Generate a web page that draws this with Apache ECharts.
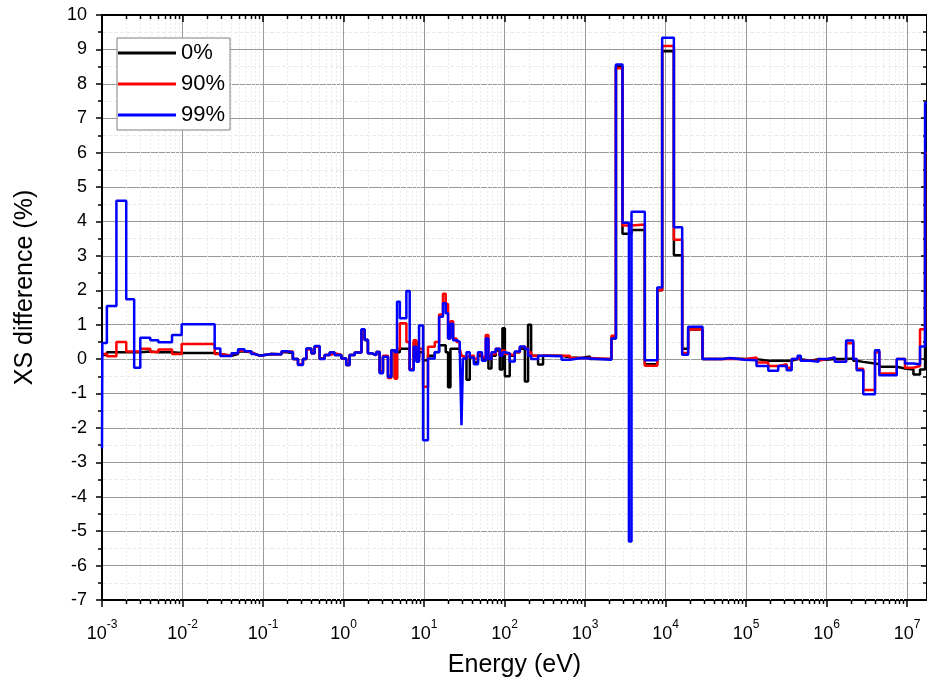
<!DOCTYPE html>
<html><head><meta charset="utf-8">
<script src="https://cdn.jsdelivr.net/npm/echarts@6/dist/echarts.min.js"></script>
<style>html,body{margin:0;padding:0;background:#fff}#c{width:927px;height:687px}</style>
</head><body><div id="c"></div><script>
// Group lower boundaries (eV); last entry closes the final group
const energies = [
  0.001, 0.00101, 0.00115, 0.00151, 0.00200, 0.00251, 0.00299, 0.00398, 0.00501, 0.00741,
  0.00977, 0.0251, 0.0295, 0.0407, 0.0490, 0.0589, 0.0716, 0.0794, 0.0912, 0.126,
  0.170, 0.195, 0.235, 0.272, 0.313, 0.345, 0.398, 0.438, 0.506, 0.583,
  0.673, 0.776, 0.940, 1.08, 1.19, 1.38, 1.67, 1.83, 2.01, 2.22,
  2.56, 2.81, 3.09, 3.57, 3.93, 4.33, 4.62, 5.01, 6.04, 6.64,
  7.45, 8.04, 8.67, 9.73, 11.2, 13.6, 15.4, 17.2, 18.6, 19.9,
  21.3, 23.0, 25.3, 27.8, 29.2, 30.5, 33.7, 37.0, 41.7, 46.8,
  52.5, 58.5, 63.1, 68.9, 77.8, 87.3, 94.2, 101, 116, 134,
  155, 179, 196, 214, 261, 301, 511, 647, 904, 1150,
  2130, 2420, 2920, 3510, 3780, 5530, 7890, 9080, 12700, 16100,
  19100, 28800, 50100, 63100, 96800, 135000, 189000, 251000, 320000, 369000,
  437000, 479000, 631000, 794000, 1.00e6, 1.27e6, 1.75e6, 2.15e6, 2.37e6, 2.86e6,
  4.00e6, 4.53e6, 7.45e6, 9.44e6, 1.20e7, 1.45e7, 1.675e7, 1.77e7
];
const diff0 = [
  0.12, 0.12, 0.2, 0.2, 0.2, 0.2, 0.22, 0.2, 0.2, 0.18,
  0.18, 0.15, 0.1, 0.15, 0.22, 0.2, 0.15, 0.1, 0.15, 0.14,
  0.2, 0.18, 0.0, -0.15, 0.0, 0.3, 0.17, 0.36, 0.02, 0.12,
  0.19, 0.12, 0.02, -0.17, 0.12, 0.19, 0.85, 0.55, 0.17, 0.12,
  0.21, -0.37, 0.07, -0.5, 0.26, -0.55, 0.2, 0.3, 0.3, -0.3,
  0.5, 0.05, 0.2, -0.03, 0.1, 0.2, 0.4, 0.4, 0.2, -0.82,
  0.3, 0.3, 0.3, 0.2, 0.1, 0.05, -0.6, 0.05, -0.1, 0.1,
  0.0, 0.1, -0.27, 0.1, 0.25, -0.3, 0.9, -0.5, 0.1, 0.2,
  0.3, -0.65, 1.0, 0.1, -0.16, 0.1, 0.05, 0.03, 0.08, 0.0,
  0.6, 8.5, 3.64, 3.64, 3.75, -0.15, 2.0, 8.95, 3.02, 0.3,
  0.86, 0.0, 0.02, 0.0, 0.0, -0.05, -0.05, -0.05, -0.05, 0.0,
  0.0, -0.05, 0.0, -0.02, 0.0, 0.0, 0.02, -0.05, -0.08, -0.13,
  -0.15, -0.22, -0.27, -0.3, -0.45, -0.3, 6.0, 6.0
];
const diff90 = [
  0.15, 0.15, 0.08, 0.5, 0.22, 0.22, 0.3, 0.21, 0.28, 0.15,
  0.44, 0.15, 0.1, 0.17, 0.24, 0.2, 0.15, 0.1, 0.15, 0.14,
  0.22, 0.22, 0.0, -0.15, 0.0, 0.28, 0.17, 0.36, 0.02, 0.12,
  0.17, 0.12, 0.02, -0.17, 0.12, 0.19, 0.8, 0.56, 0.17, 0.12,
  0.21, -0.37, 0.1, -0.55, 0.26, -0.57, 0.3, 1.04, 0.5, -0.3,
  0.55, 0.0, 0.3, -0.8, 0.36, 0.5, 1.3, 1.9, 1.6, 0.6,
  1.1, 0.6, 0.5, 0.3, 0.1, 0.05, 0.1, 0.1, 0.0, 0.15,
  0.05, 0.7, 0.0, 0.15, 0.3, 0.1, 0.25, 0.15, 0.1, 0.2,
  0.35, 0.3, 0.2, 0.1, 0.1, 0.1, 0.1, 0.03, 0.03, 0.0,
  0.68, 8.45, 3.88, 3.88, 3.91, -0.19, 2.0, 9.1, 3.47, 0.18,
  0.86, 0.0, 0.0, 0.0, 0.05, -0.1, -0.2, -0.15, -0.25, 0.0,
  0.05, -0.05, -0.05, 0.0, 0.05, -0.08, 0.46, 0.0, -0.28, -0.9,
  0.2, -0.42, 0.0, -0.25, -0.2, 0.87, 6.0, 6.0
];
const diff99 = [
  -2.6, 0.47, 1.54, 4.6, 1.74, -0.25, 0.62, 0.55, 0.49, 0.70,
  1.01, 0.31, 0.09, 0.17, 0.29, 0.23, 0.15, 0.1, 0.15, 0.14,
  0.23, 0.2, 0.0, -0.17, 0.0, 0.31, 0.17, 0.38, 0.0, 0.12,
  0.19, 0.12, 0.02, -0.17, 0.12, 0.19, 0.87, 0.56, 0.17, 0.12,
  0.21, -0.41, 0.07, -0.52, 0.26, 0.2, 1.67, 1.19, 1.98, -0.32,
  0.36, -0.08, 0.98, -2.36, 0.02, 0.21, 1.23, 1.62, 1.33, 0.6,
  1.03, 0.55, 0.5, 0.3, -1.92, 0.02, 0.2, 0.05, -0.15, 0.2,
  -0.05, 0.6, 0.0, 0.2, 0.3, 0.1, 0.2, 0.17, -0.07, 0.22,
  0.37, 0.3, 0.1, 0.0, 0.1, 0.08, -0.02, 0.03, 0.02, -0.02,
  0.6, 8.56, 3.96, -5.3, 4.28, -0.03, 2.08, 9.34, 3.83, 0.13,
  0.94, 0.0, 0.03, -0.02, -0.03, -0.2, -0.34, -0.2, -0.32, 0.0,
  0.1, -0.05, -0.08, 0.0, 0.05, -0.08, 0.54, 0.0, -0.32, -1.02,
  0.26, -0.47, 0.0, -0.13, -0.15, 0.37, 7.45, 7.45
];
const seriesNames = ['0%', '90%', '99%'];
const seriesColors = ['#000000', '#ff0000', '#0000ff'];
const xMin = 1e-3, xMax = 1.77e7;
const yMin = -7, yMax = 10, yStep = 1;
const minorMantissas = [2, 3, 4, 5, 6, 7, 8, 9];

const FONT = 'Liberation Sans, Arial, sans-serif';
const minorX = [];
for (let d = -3; d <= 7; d++) {
  minorMantissas.forEach(m => { const v = m * Math.pow(10, d); if (v < xMax) minorX.push([v, 0]); });
}
const pair = arr => energies.map((e, i) => [e, arr[i]]);

function renderMinor(params, api) {
  const cs = params.coordSys;
  const x = Math.round(api.coord([api.value(0), 0])[0]) + 0.5;
  const top = cs.y, bot = cs.y + cs.height;
  return { type: 'group', children: [
    { type: 'line', shape: { x1: x, y1: top, x2: x, y2: bot }, style: { stroke: '#ebebeb', lineWidth: 1, lineDash: [2, 2] } },
    { type: 'line', shape: { x1: x, y1: bot, x2: x, y2: bot + 4 }, style: { stroke: '#000', lineWidth: 1.5 } },
    { type: 'line', shape: { x1: x, y1: top, x2: x, y2: top + 4 }, style: { stroke: '#000', lineWidth: 1.5 } }
  ]};
}

const labelFmt = v => {
  const e = Math.log10(v), r = Math.round(e);
  if (Math.abs(e - r) > 1e-6) return '';
  return '{b|10}{s|' + r + '}';
};

const chart = echarts.init(document.getElementById('c'), null, { renderer: 'canvas' });
const lineSeries = [diff0, diff90, diff99].map((arr, i) => ({
  name: seriesNames[i], type: 'line', step: 'end', data: pair(arr),
  showSymbol: false, symbol: 'none', z: 3 + i,
  lineStyle: { color: seriesColors[i], width: 2.5 }, itemStyle: { color: seriesColors[i] },
  animation: false
}));

chart.setOption({
  animation: false,
  backgroundColor: '#ffffff',
  grid: { left: 102, right: 0, top: 15, bottom: 87, containLabel: false },
  legend: {
    orient: 'vertical', left: 117, top: 38, padding: [3, 5, 3, 1], itemGap: 7,
    itemWidth: 58, itemHeight: 3, icon: 'rect',
    backgroundColor: '#ffffff', borderColor: '#808080', borderWidth: 1, borderRadius: 0,
    textStyle: { fontSize: 22, fontFamily: FONT, color: '#000', lineHeight: 24 },
    data: seriesNames
  },
  xAxis: [{
    type: 'log', logBase: 10, min: xMin, max: xMax, splitNumber: 10, interval: 1,
    name: 'Energy (eV)', nameLocation: 'middle', nameGap: 53,
    nameTextStyle: { fontSize: 25, fontFamily: FONT, color: '#000' },
    axisLine: { show: true, onZero: false, lineStyle: { color: '#000', width: 2 } },
    axisTick: { show: true, inside: false, length: 7, lineStyle: { color: '#000', width: 1.5 } },
    axisLabel: {
      formatter: labelFmt, margin: 19, showMaxLabel: false,
      rich: {
        b: { fontSize: 18, fontFamily: FONT, color: '#000', lineHeight: 24, verticalAlign: 'bottom' },
        s: { fontSize: 12, fontFamily: FONT, color: '#000', lineHeight: 12, verticalAlign: 'top' }
      }
    },
    splitLine: { show: true, lineStyle: { color: '#9a9a9a', width: 1 } }
  }, {
    type: 'log', logBase: 10, min: xMin, max: xMax, splitNumber: 10, interval: 1, position: 'top',
    axisLine: { show: true, onZero: false, lineStyle: { color: '#000', width: 2 } },
    axisTick: { show: true, inside: true, length: 7, lineStyle: { color: '#000', width: 1.5 } },
    axisLabel: { show: false }, splitLine: { show: false }
  }],
  yAxis: [{
    type: 'value', min: yMin, max: yMax, interval: yStep,
    name: 'XS difference (%)', nameLocation: 'middle', nameGap: 64,
    nameTextStyle: { fontSize: 25, fontFamily: FONT, color: '#000', padding: [0, 0, 0, 40] },
    axisLine: { show: true, onZero: false, lineStyle: { color: '#000', width: 2 } },
    axisTick: { show: true, inside: false, length: 6, lineStyle: { color: '#000', width: 1.5 } },
    minorTick: { show: true, splitNumber: 2, length: 4, lineStyle: { color: '#000', width: 1.5 } },
    axisLabel: { fontSize: 18, fontFamily: FONT, color: '#000', margin: 15 },
    splitLine: { show: true, lineStyle: { color: '#9a9a9a', width: 1 } },
    minorSplitLine: { show: true, lineStyle: { color: '#ebebeb', width: 1, type: 'dashed' } }
  }, {
    type: 'value', min: yMin, max: yMax, interval: yStep, position: 'right',
    axisLine: { show: true, onZero: false, lineStyle: { color: '#000', width: 2 } },
    axisTick: { show: true, inside: true, length: 6, lineStyle: { color: '#000', width: 1.5 } },
    minorTick: { show: true, splitNumber: 2, length: 4, lineStyle: { color: '#000', width: 1.5 } },
    axisLabel: { show: false }, splitLine: { show: false }
  }],
  series: [{
    type: 'custom', name: 'minor', xAxisIndex: 0, yAxisIndex: 0, data: minorX,
    renderItem: renderMinor, clip: false, silent: true, z: 1, animation: false
  }].concat(lineSeries)
});
</script></body></html>
